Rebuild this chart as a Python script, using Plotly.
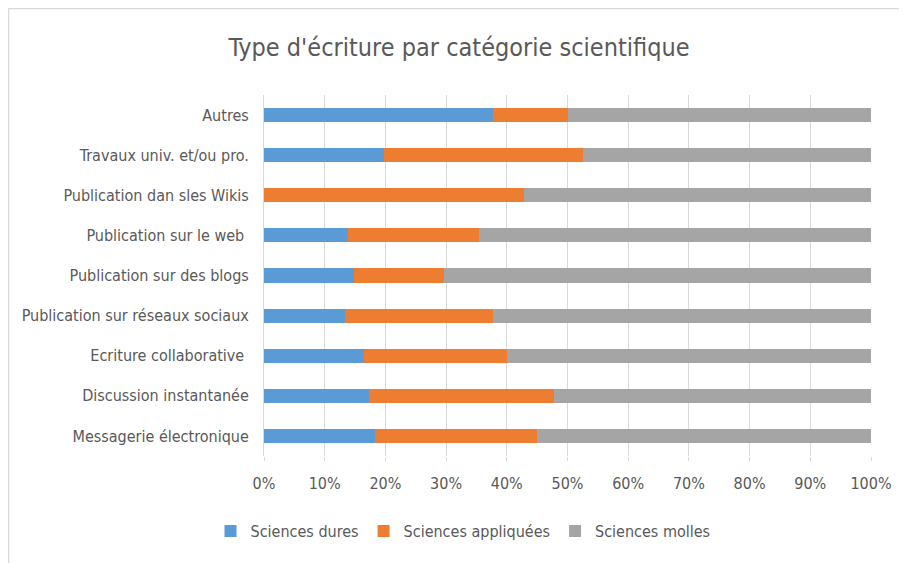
import plotly.graph_objects as go

categories = [
    "Messagerie électronique",
    "Discussion instantanée",
    "Ecriture collaborative ",
    "Publication sur réseaux sociaux",
    "Publication sur des blogs",
    "Publication sur le web ",
    "Publication dan sles Wikis",
    "Travaux univ. et/ou pro.",
    "Autres",
]
sciences_dures = [18.3, 17.3, 16.4, 13.3, 14.8, 13.8, 0.0, 19.8, 37.7]
sciences_appliquees = [26.6, 30.4, 23.7, 24.4, 14.9, 21.7, 42.9, 32.8, 12.4]
sciences_molles = [55.1, 52.3, 59.9, 62.3, 70.3, 64.5, 57.1, 47.4, 49.9]

series = [
    ("Sciences dures", sciences_dures, "#5B9BD5"),
    ("Sciences appliquées", sciences_appliquees, "#ED7D31"),
    ("Sciences molles", sciences_molles, "#A5A5A5"),
]

FONT = "DejaVu Sans Condensed, Liberation Sans Narrow, Open Sans, sans-serif"
fig = go.Figure()
for name, vals, col in series:
    fig.add_trace(go.Bar(
        y=categories, x=[v / 100 for v in vals], name=name, orientation="h",
        marker=dict(color=col, line=dict(width=0)),
    ))

# page body has an 8px margin, so figure coords = screen coords - 8
OFF = 8
W, H = 907 - OFF, 563 - OFF
L, T = 264 - OFF, 95 - OFF
pw, ph = 607, 361
R, B = W - L - pw, H - T - ph

def fy(screen_y):
    return (T + ph - (screen_y - OFF)) / ph

def fx(screen_x):
    return (screen_x - OFF - L) / pw

fig.update_layout(
    width=W, height=H,
    barmode="stack", bargap=0.65,
    margin=dict(l=L, r=R, t=T, b=B, autoexpand=False),
    paper_bgcolor="white", plot_bgcolor="white",
    font=dict(family=FONT, color="#595959", size=16),
    title=dict(text="Type d'écriture par catégorie scientifique",
               x=fx(459) * pw / W + L / W, xanchor="center",
               y=1 - (47 - OFF) / H, yanchor="middle",
               font=dict(size=25, color="#595959", family=FONT)),
    xaxis=dict(range=[0, 1], tickformat=".0%", dtick=0.1,
               showgrid=True, gridcolor="#D9D9D9", gridwidth=1,
               zeroline=False, ticks="outside", ticklen=4, tickcolor="#D9D9D9",
               ticklabelstandoff=9, tickfont=dict(size=16, color="#595959"),
               fixedrange=True),
    yaxis=dict(showgrid=False, showline=True, linecolor="#D9D9D9", linewidth=1,
               ticks="", ticklabelstandoff=11,
               tickfont=dict(size=16, color="#595959")),
    legend=dict(orientation="h", x=fx(463),
                xanchor="center", y=fy(531), yanchor="middle",
                font=dict(size=16, color="#595959"), traceorder="normal",
                itemwidth=30),
    showlegend=True,
)

# chart border: only left and top edges are visible in the reference
x_left = (0.5 - L) / pw
y_top = (T + ph - 0.5) / ph
fig.add_shape(type="line", xref="paper", yref="paper",
              x0=x_left, x1=x_left, y0=fy(570), y1=y_top,
              line=dict(color="#D9D9D9", width=1.5), layer="below")
fig.add_shape(type="line", xref="paper", yref="paper",
              x0=x_left, x1=fx(915), y0=y_top, y1=y_top,
              line=dict(color="#D9D9D9", width=1.5), layer="below")

fig.write_html("out.html")
